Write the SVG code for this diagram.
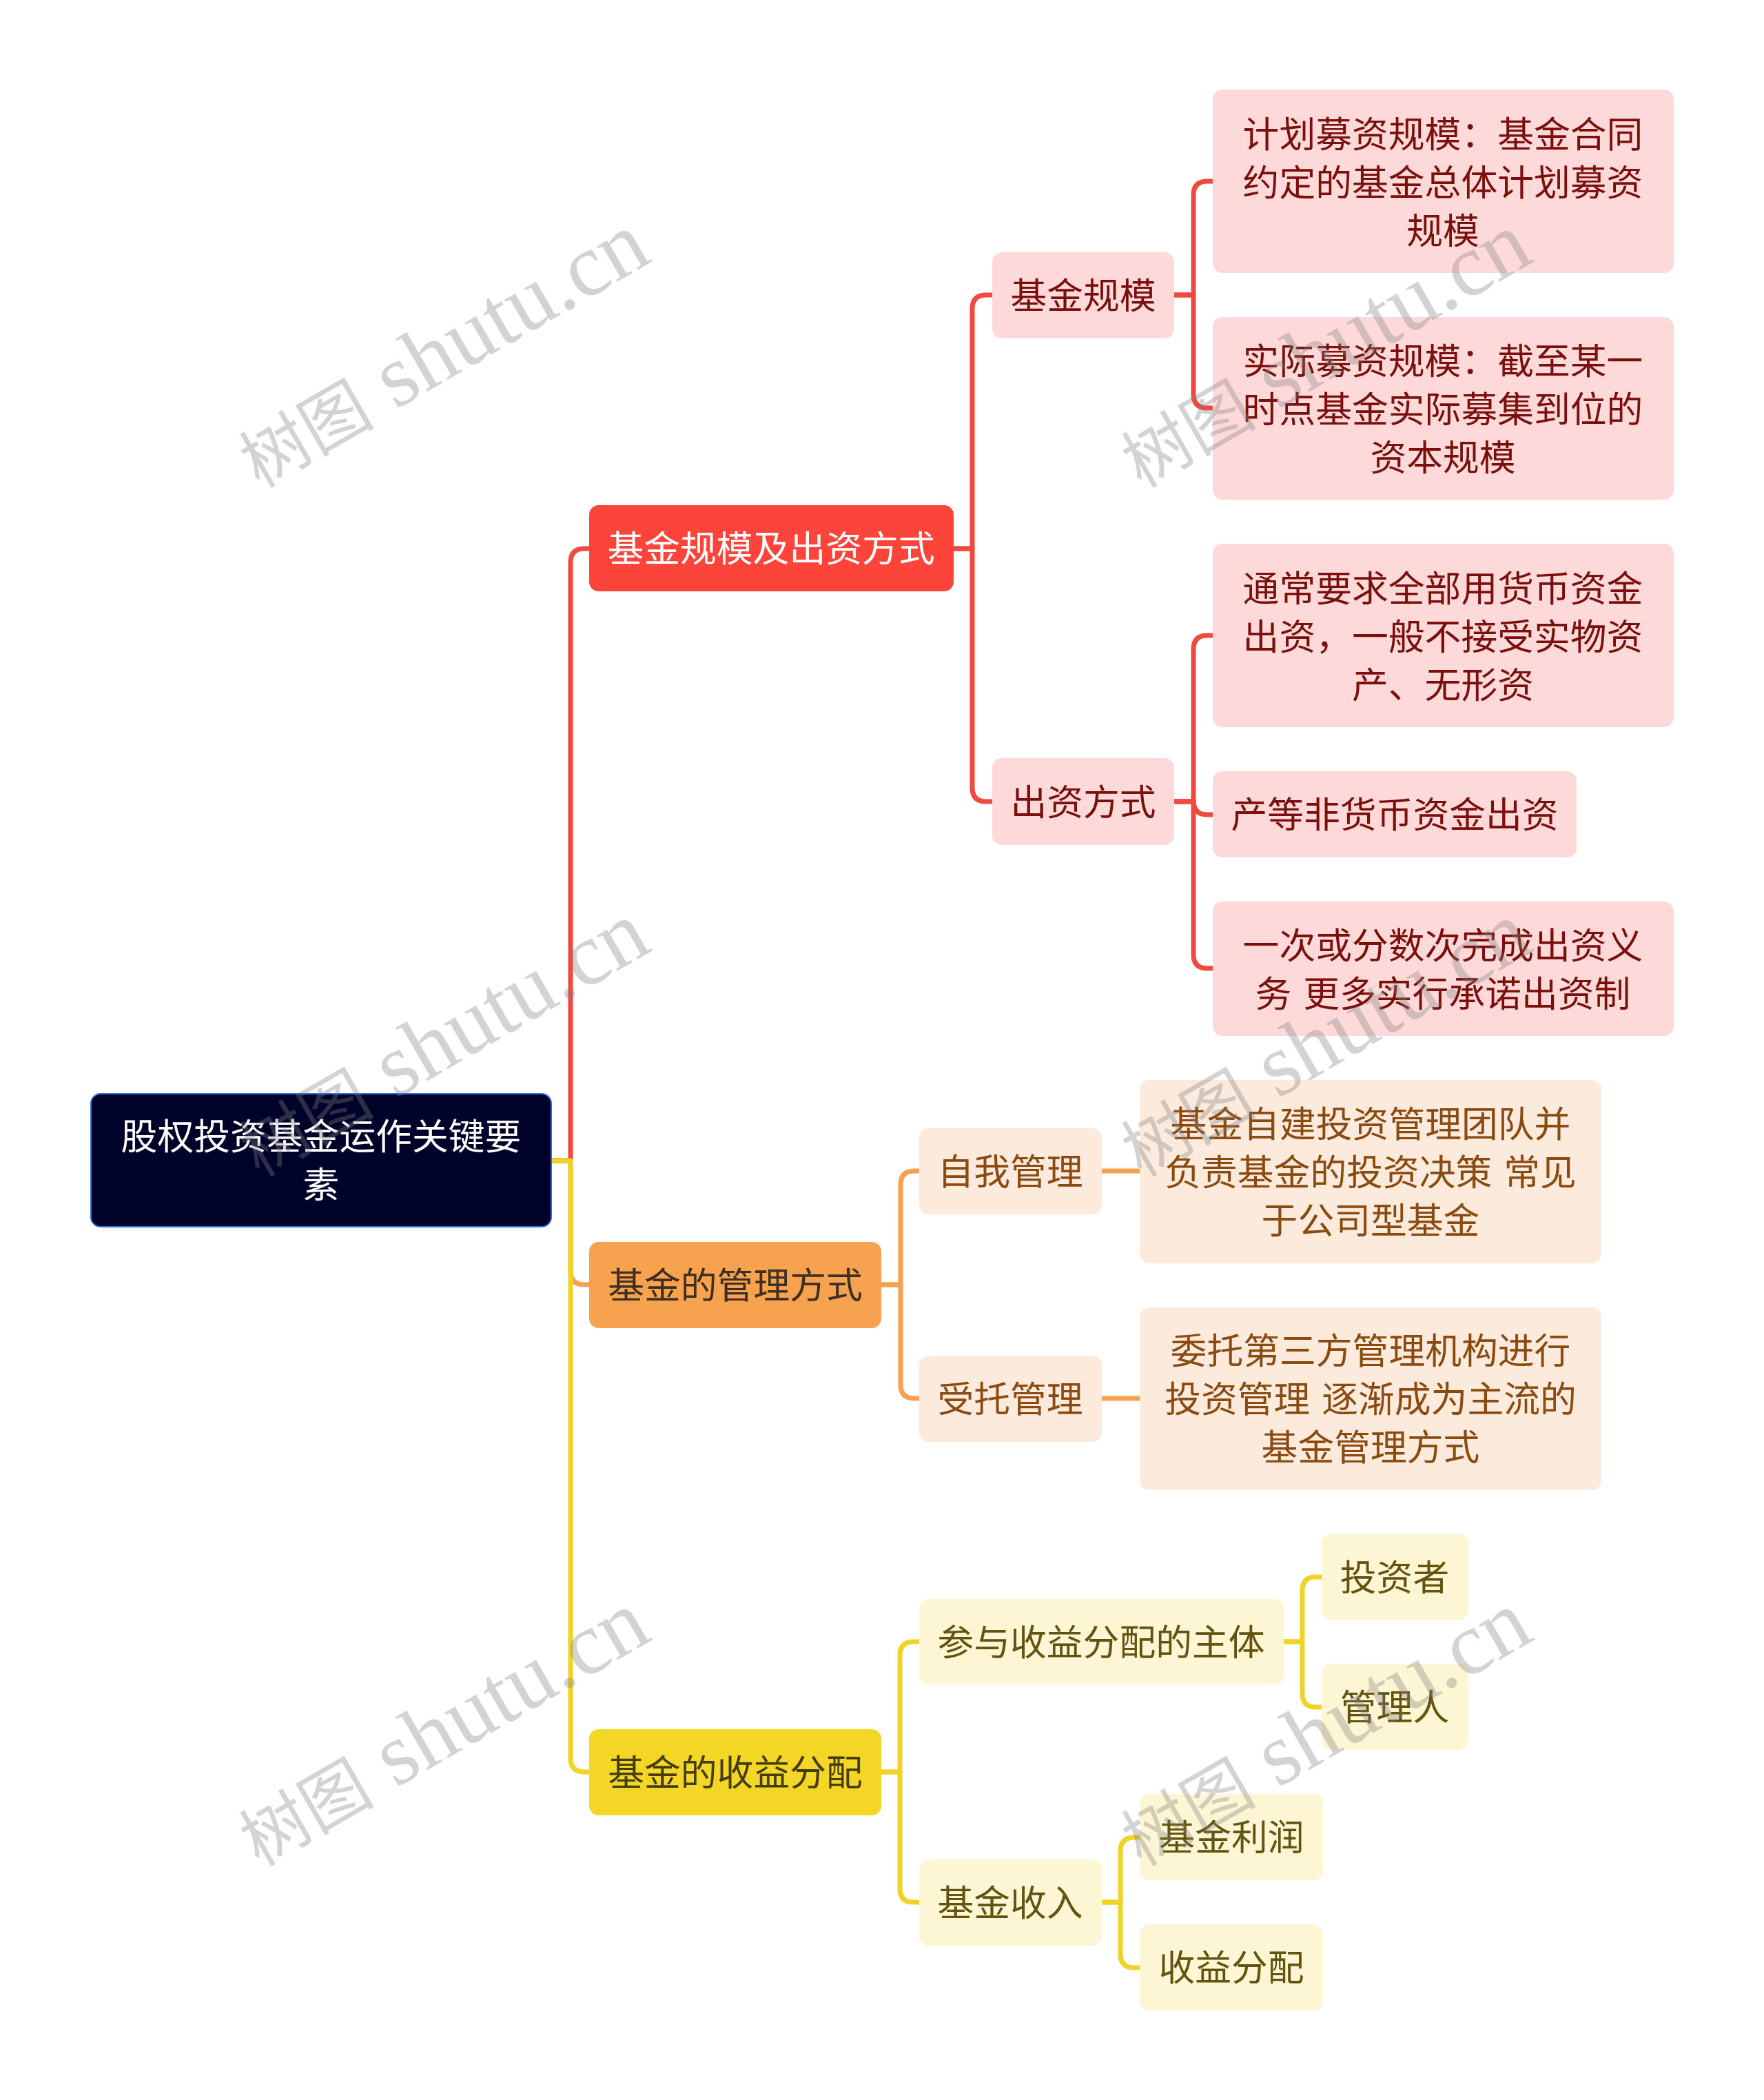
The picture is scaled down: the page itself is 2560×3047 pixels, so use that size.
<svg xmlns="http://www.w3.org/2000/svg" width="2560" height="3047" viewBox="0 0 2560 3047">
<style>
text{font-family:"Noto Sans CJK SC","Noto Sans",sans-serif;font-size:52.8px;text-anchor:middle;word-spacing:5px}
.c{fill:none;stroke-width:7;stroke-linejoin:round}
.cr{stroke:#f0493f}.co{stroke:#f6a151}.cy{stroke:#f1d327}
.r0{fill:#000229;stroke:#2f6fe0;stroke-width:2}.t0{fill:#fff}
.r1{fill:#fc443b}.t1{fill:#fff}
.r2{fill:#fddad9}.t2{fill:#7a0f0b}
.o1{fill:#f7a24f}.to1{fill:#3e2f20}
.o2{fill:#fcebdd}.to2{fill:#8a4a10}
.y1{fill:#f3d626}.ty1{fill:#453c10}
.y2{fill:#fcf6d4}.ty2{fill:#63530e}
.wm{font-family:"Liberation Serif","Noto Sans CJK SC",serif;font-size:129px;fill:#808080;opacity:.34;text-anchor:start;word-spacing:0}
.wc{font-family:"Noto Sans CJK SC",sans-serif;font-size:98px}
</style>
<rect width="2560" height="3047" fill="#fff"/>
<g id="connectors">
<path class="c co" d="M800 1684H828V1844Q828 1864 848 1864H855"/>
<path class="c cr" d="M800 1684H828V816Q828 796 848 796H855"/>
<path class="c cy" d="M800 1684H828V2551Q828 2571 848 2571H855"/>
<path class="c cr" d="M1384 796H1411V448Q1411 428 1431 428H1440"/>
<path class="c cr" d="M1384 796H1411V1143Q1411 1163 1431 1163H1440"/>
<path class="c cr" d="M1704 428H1732V283Q1732 263 1752 263H1760"/>
<path class="c cr" d="M1704 428H1732V572Q1732 592 1752 592H1760"/>
<path class="c cr" d="M1704 1163H1732V942Q1732 922 1752 922H1760"/>
<path class="c cr" d="M1704 1163H1732V1162Q1732 1182 1752 1182H1760"/>
<path class="c cr" d="M1704 1163H1732V1385Q1732 1405 1752 1405H1760"/>
<path class="c co" d="M1279 1864H1307V1719Q1307 1699 1327 1699H1334"/>
<path class="c co" d="M1279 1864H1307V2009Q1307 2029 1327 2029H1334"/>
<path class="c co" d="M1599 1699H1654"/>
<path class="c co" d="M1599 2029H1654"/>
<path class="c cy" d="M1279 2571H1306V2402Q1306 2382 1326 2382H1334"/>
<path class="c cy" d="M1279 2571H1306V2740Q1306 2760 1326 2760H1334"/>
<path class="c cy" d="M1862 2382H1890V2308Q1890 2288 1910 2288H1918"/>
<path class="c cy" d="M1862 2382H1890V2457Q1890 2477 1910 2477H1918"/>
<path class="c cy" d="M1599 2760H1626V2686Q1626 2666 1646 2666H1654"/>
<path class="c cy" d="M1599 2760H1626V2835Q1626 2855 1646 2855H1654"/>
</g>
<g id="root"><rect class="r0" x="132" y="1587" width="668" height="193" rx="14"/><text class="t0" x="466" y="1668">股权投资基金运作关键要</text><text class="t0" x="466" y="1738">素</text></g>
<g id="n1"><rect class="r1" x="855" y="733" width="529" height="125" rx="14"/><text class="t1" x="1119" y="815">基金规模及出资方式</text></g>
<g id="n11"><rect class="r2" x="1440" y="366" width="264" height="125" rx="14"/><text class="t2" x="1572" y="448">基金规模</text></g>
<g id="n111"><rect class="r2" x="1760" y="130" width="669" height="266" rx="14"/><text class="t2" x="2094" y="214">计划募资规模：基金合同</text><text class="t2" x="2094" y="284">约定的基金总体计划募资</text><text class="t2" x="2094" y="354">规模</text></g>
<g id="n112"><rect class="r2" x="1760" y="460" width="669" height="265" rx="14"/><text class="t2" x="2094" y="543">实际募资规模：截至某一</text><text class="t2" x="2094" y="613">时点基金实际募集到位的</text><text class="t2" x="2094" y="683">资本规模</text></g>
<g id="n12"><rect class="r2" x="1440" y="1100" width="264" height="126" rx="14"/><text class="t2" x="1572" y="1183">出资方式</text></g>
<g id="n121"><rect class="r2" x="1760" y="789" width="669" height="266" rx="14"/><text class="t2" x="2094" y="873">通常要求全部用货币资金</text><text class="t2" x="2094" y="943">出资，一般不接受实物资</text><text class="t2" x="2094" y="1013">产、无形资</text></g>
<g id="n122"><rect class="r2" x="1760" y="1119" width="528" height="125" rx="14"/><text class="t2" x="2024" y="1201">产等非货币资金出资</text></g>
<g id="n123"><rect class="r2" x="1760" y="1308" width="669" height="195" rx="14"/><text class="t2" x="2094" y="1391">一次或分数次完成出资义</text><text class="t2" x="2094" y="1461">务 更多实行承诺出资制</text></g>
<g id="n2"><rect class="o1" x="855" y="1802" width="424" height="125" rx="14"/><text class="to1" x="1067" y="1884">基金的管理方式</text></g>
<g id="n21"><rect class="o2" x="1334" y="1637" width="265" height="125" rx="14"/><text class="to2" x="1466" y="1719">自我管理</text></g>
<g id="n211"><rect class="o2" x="1654" y="1567" width="670" height="266" rx="14"/><text class="to2" x="1989" y="1650">基金自建投资管理团队并</text><text class="to2" x="1989" y="1720">负责基金的投资决策 常见</text><text class="to2" x="1989" y="1790">于公司型基金</text></g>
<g id="n22"><rect class="o2" x="1334" y="1967" width="265" height="125" rx="14"/><text class="to2" x="1466" y="2049">受托管理</text></g>
<g id="n221"><rect class="o2" x="1654" y="1897" width="670" height="265" rx="14"/><text class="to2" x="1989" y="1979">委托第三方管理机构进行</text><text class="to2" x="1989" y="2049">投资管理 逐渐成为主流的</text><text class="to2" x="1989" y="2119">基金管理方式</text></g>
<g id="n3"><rect class="y1" x="855" y="2509" width="424" height="125" rx="14"/><text class="ty1" x="1067" y="2591">基金的收益分配</text></g>
<g id="n31"><rect class="y2" x="1334" y="2320" width="529" height="124" rx="14"/><text class="ty2" x="1598" y="2402">参与收益分配的主体</text></g>
<g id="n311"><rect class="y2" x="1918" y="2226" width="213" height="125" rx="14"/><text class="ty2" x="2024" y="2308">投资者</text></g>
<g id="n312"><rect class="y2" x="1918" y="2414" width="213" height="125" rx="14"/><text class="ty2" x="2024" y="2496">管理人</text></g>
<g id="n32"><rect class="y2" x="1334" y="2698" width="265" height="125" rx="14"/><text class="ty2" x="1466" y="2780">基金收入</text></g>
<g id="n321"><rect class="y2" x="1654" y="2603" width="266" height="125" rx="14"/><text class="ty2" x="1787" y="2685">基金利润</text></g>
<g id="n322"><rect class="y2" x="1654" y="2792" width="266" height="125" rx="14"/><text class="ty2" x="1787" y="2874">收益分配</text></g>
<g id="watermarks">
<text class="wm" transform="translate(376 709) rotate(-30)"><tspan class="wc">树图</tspan> shutu.cn</text>
<text class="wm" transform="translate(1656 709) rotate(-30)"><tspan class="wc">树图</tspan> shutu.cn</text>
<text class="wm" transform="translate(376 1709) rotate(-30)"><tspan class="wc">树图</tspan> shutu.cn</text>
<text class="wm" transform="translate(1656 1709) rotate(-30)"><tspan class="wc">树图</tspan> shutu.cn</text>
<text class="wm" transform="translate(376 2709) rotate(-30)"><tspan class="wc">树图</tspan> shutu.cn</text>
<text class="wm" transform="translate(1656 2709) rotate(-30)"><tspan class="wc">树图</tspan> shutu.cn</text>
</g>
</svg>
